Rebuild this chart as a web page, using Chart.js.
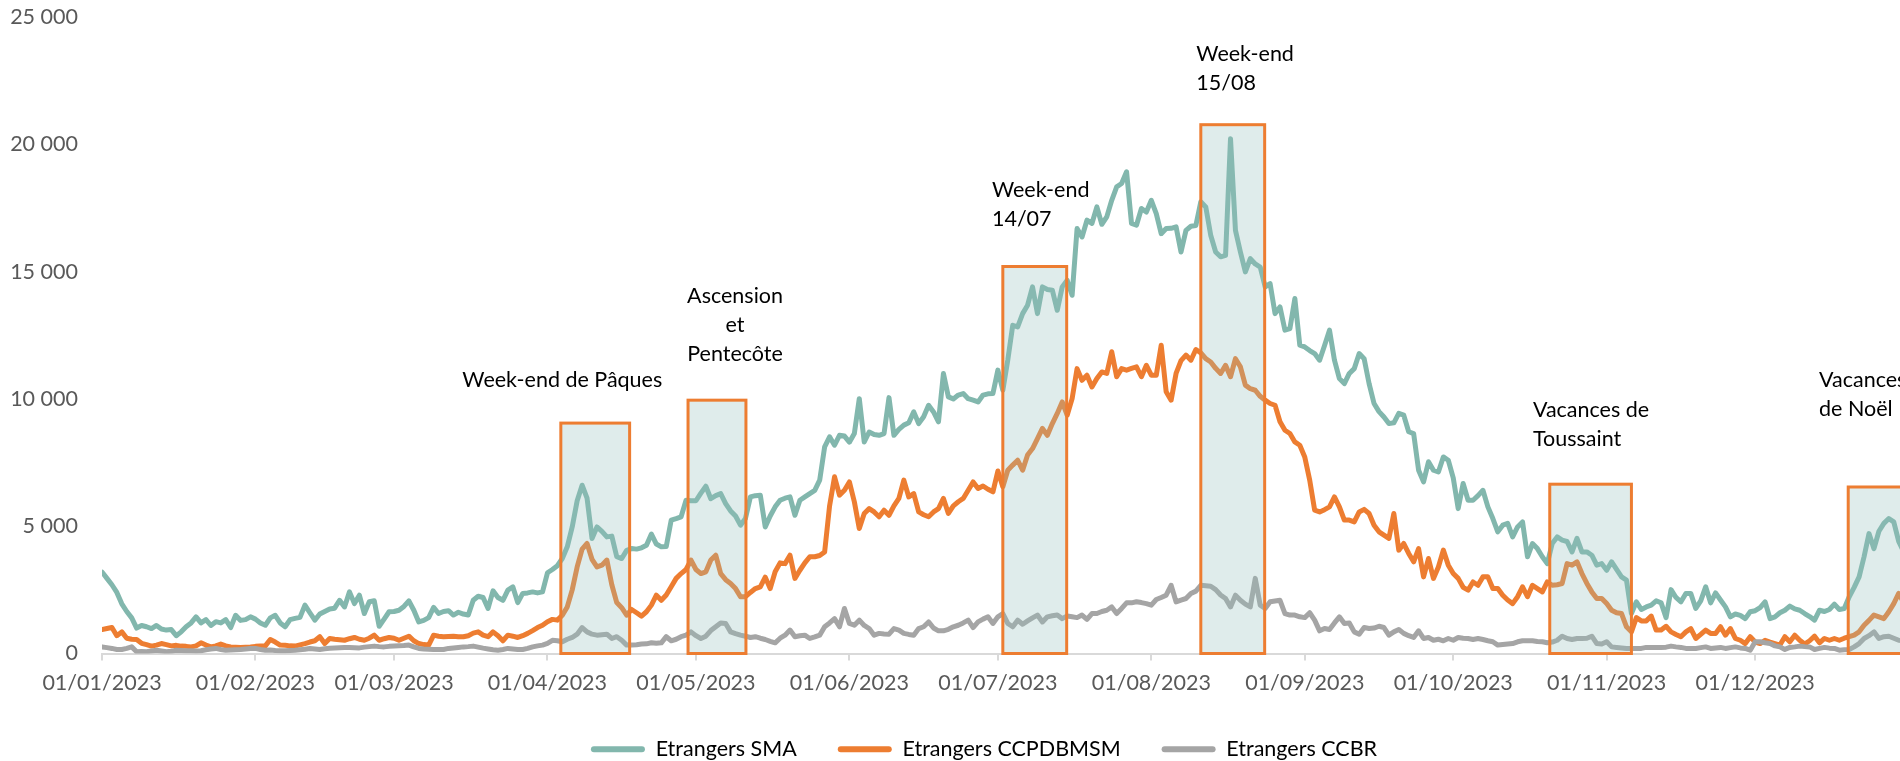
<!DOCTYPE html>
<html lang="fr">
<head>
<meta charset="utf-8">
<title>Etrangers 2023</title>
<script src="https://cdn.jsdelivr.net/npm/chart.js@4.4.1/dist/chart.umd.min.js"></script>
<style>
  html, body { margin: 0; padding: 0; background: #fff; overflow: hidden; }
  #wrap { width: 1900px; height: 761px; overflow: hidden; position: relative; }
</style>
</head>
<body>
<div id="wrap"><canvas id="chart" width="1968" height="770"></canvas></div>
<script>
// x values are day numbers in 2023 (0 = 01/01/2023)
const monthStarts = [0, 31, 59, 90, 120, 151, 181, 212, 243, 273, 304, 334];
const monthLabels = ["01/01/2023", "01/02/2023", "01/03/2023", "01/04/2023", "01/05/2023", "01/06/2023",
                     "01/07/2023", "01/08/2023", "01/09/2023", "01/10/2023", "01/11/2023", "01/12/2023"];
const seriesNames = ["Etrangers SMA", "Etrangers CCPDBMSM", "Etrangers CCBR"];

// daily values, one line per month
const smaValues = [
  3200,2950,2700,2400,1950,1650,1400,1000,1100,1050,980,1100,960,920,940,700,850,1050,1200,1440,1200,1330,1100,1250,1200,1330,1020,1500,1300,1330,1440,
  1350,1200,1110,1400,1500,1200,1050,1330,1380,1420,1900,1600,1310,1550,1650,1750,1780,2090,1830,2420,1960,2290,1570,2030,2070,1070,1350,1640,
  1650,1700,1850,2070,1700,1240,1300,1410,1810,1570,1650,1680,1510,1620,1550,1510,2090,2250,2200,1770,2460,2200,2090,2490,2620,2000,2360,2380,2420,2380,2420,
  3170,3300,3450,3730,4190,4970,6000,6610,6100,4520,4970,4800,4580,4610,3800,3730,4050,4120,4100,4150,4250,4690,4300,4190,4200,5240,5300,5370,6020,6000,
  6000,6300,6570,6080,6200,6280,5890,5600,5400,5040,5300,6150,6200,6220,4970,5400,5760,6020,6100,6150,5430,6020,6150,6280,6410,6810,8120,8510,8180,8570,8540,
  8300,8640,10010,8310,8700,8600,8570,8640,10050,8570,8800,8970,9060,9490,9030,9300,9750,9490,9100,11000,10080,10000,10150,10210,10010,9950,9880,10150,10200,10210,
  11130,10340,11520,12890,12830,13350,13680,14400,13350,14400,14300,14270,13480,14400,14660,14070,16690,16360,17020,16890,17540,16860,17150,17800,18330,18460,18920,16890,16820,17480,17340,
  17800,17280,16490,16690,16700,16760,15770,16620,16780,16810,17740,17540,16430,15770,15580,15640,20220,16620,15770,14990,15510,15300,15180,14400,14530,13350,13610,12700,12760,13940,12110,
  12040,11900,11780,11520,12100,12700,11520,10800,10600,11000,11190,11780,11580,10600,9820,9500,9290,9030,9060,9430,9360,8710,8640,7200,6740,7530,7200,7130,7720,7590,
  6900,5690,6680,6020,6020,6200,6410,5760,5300,4780,5040,5110,4580,4970,5170,3800,4320,4120,3800,3530,4320,4580,4450,4400,3990,4520,3990,3990,3860,3470,3530,
  3270,3600,3300,3010,2880,1570,2030,1730,1830,1900,2070,1990,1410,2510,2200,2030,2360,2360,1770,2070,2620,1990,2380,2100,1830,1440,1550,1500,1370,1640,
  1680,1800,2030,1370,1440,1600,1700,1860,1750,1700,1570,1450,1310,1700,1650,1730,1940,1730,1770,2230,2600,3010,3800,4710,4120,4800,5110,5300,5170,4400,4000
];
const ccpValues = [
  940,980,1020,700,850,600,560,550,400,350,290,330,390,350,300,320,290,280,260,300,420,330,260,300,370,300,260,250,240,250,260,
  280,290,300,550,450,330,320,300,290,340,390,450,500,660,390,590,560,540,520,580,630,560,520,600,720,520,580,630,
  600,520,600,680,500,390,350,330,720,680,660,670,680,660,660,700,800,850,720,660,850,700,500,720,680,630,700,790,900,1020,1110,
  1250,1340,1310,1500,1830,2500,3400,4100,4320,3700,3400,3470,3670,2700,2000,1800,1510,1730,1600,1470,1640,1900,2290,2090,2300,2620,2950,3140,3300,3670,
  3300,3140,3210,3670,3860,3140,2900,2750,2550,2230,2230,2400,2550,2620,3000,2550,3210,3560,3530,3860,2950,3270,3560,3800,3800,3850,3990,5800,6940,6220,6410,
  6740,5960,4910,5500,5690,5560,5370,5630,5430,5800,6090,6810,6150,6280,5560,5450,5370,5560,5690,6090,5500,5800,5960,6090,6410,6740,6480,6580,6450,6350,
  7170,6550,7200,7400,7590,7200,7800,8050,8440,8840,8570,9030,9430,9880,9360,10010,11190,10730,10930,10470,10800,11060,11000,11850,10870,11190,11130,11200,11260,10870,11320,
  10930,10930,12110,10280,9950,11000,11500,11720,11520,11940,11810,11580,11450,11200,11000,11320,10870,11580,11260,10540,10400,10340,10100,9950,9820,9750,9100,8770,8640,8310,8180,
  7720,6810,5630,5560,5650,5760,6150,5760,5240,5240,5170,5560,5660,5500,5040,4780,4650,4520,5500,4060,4320,3930,3600,4120,3010,3730,2950,3400,4060,3470,
  3140,2950,2600,2490,2810,2680,3010,3010,2550,2550,2290,2100,1960,2230,2620,2230,2680,2550,2420,2810,2680,2700,2750,3530,3470,3600,3140,2750,2420,2160,2160,
  1960,1700,1600,1570,1050,850,1410,1280,1280,1470,920,920,1070,850,750,660,850,980,590,750,920,790,790,1050,720,980,590,520,390,660,
  450,390,520,450,390,330,660,460,720,520,370,500,680,420,590,520,590,520,600,660,720,850,1110,1300,1510,1440,1370,1640,1960,2360,2000
];
const ccbrValues = [
  260,230,200,160,160,200,260,70,80,70,100,130,100,70,90,130,120,110,110,100,110,150,180,200,160,130,140,150,160,180,200,
  200,160,130,140,120,110,110,120,130,150,170,200,180,160,190,210,220,230,240,240,230,220,250,270,290,270,260,280,
  290,300,310,330,260,200,180,170,160,160,160,200,220,240,260,270,290,250,210,180,150,130,160,200,180,160,160,200,260,300,330,
  400,520,500,460,560,630,760,1020,850,760,720,740,760,590,660,520,330,330,340,370,380,420,400,420,660,500,560,660,720,850,
  700,590,680,900,1050,1200,1180,850,780,720,680,630,660,600,550,480,420,600,720,920,660,700,720,590,650,720,1050,1200,1370,1050,1770,
  1180,1110,1310,1100,980,720,790,770,760,980,920,790,750,720,980,1050,1240,1000,890,890,950,1050,1110,1200,1310,1020,1240,1350,1440,1180,
  1440,1570,1180,1050,1310,1150,1280,1400,1510,1240,1440,1480,1510,1370,1470,1440,1410,1510,1340,1570,1570,1650,1700,1830,1570,1770,1990,1990,2030,2000,1960,
  1900,2120,2200,2290,2680,2030,2100,2160,2360,2450,2680,2660,2640,2510,2300,2160,1830,2290,2090,1940,1830,2950,1900,1770,2030,2060,2090,1570,1510,1510,1440,
  1410,1600,1310,890,980,940,1200,1440,1180,1200,850,760,1020,980,1000,1070,1020,720,850,940,790,700,630,890,590,630,520,560,500,590,
  520,630,600,590,550,590,550,500,460,330,350,370,390,460,500,500,500,470,460,420,450,520,680,590,550,590,590,600,680,390,370,
  460,260,240,220,200,200,200,200,240,240,240,240,250,290,260,240,200,200,200,230,260,200,220,240,200,230,260,220,200,130,
  460,460,420,390,300,260,160,240,260,290,270,260,160,200,240,210,200,130,150,160,260,390,590,700,850,590,660,680,600,520,500
];

// highlighted periods (day numbers and height in series units)
const periodStart = [92.7, 118.4, 182.0, 222.0, 292.5, 352.8];
const periodEnd = [106.6, 130.1, 194.9, 234.9, 309.0, 372.0];
const periodTop = [9050, 9950, 15200, 20770, 6650, 6540];

const FONT = "Lato, 'Open Sans', sans-serif";
const TEXT_SIZE = 21.5;
const seriesColors = ["#82B7AD", "#ED7D31", "#A5A5A5"];

Chart.defaults.font.family = FONT;

function toPoints(values) {
    return values.map((v, i) => ({ x: i, y: v }));
}

function formatThousands(v) {
    return String(v).replace(/\B(?=(\d{3})+(?!\d))/g, " ");
}

// notes above the highlighted periods, anchored in data units
const periodNotes = [
    { lines: ["Week-end de Pâques"], day: 93.0, value: 10730, align: "center" },
    { lines: ["Ascension", "et", "Pentecôte"], day: 127.9, value: 14040, align: "center" },
    { lines: ["Week-end", "14/07"], day: 179.8, value: 18190, align: "left" },
    { lines: ["Week-end", "15/08"], day: 221.1, value: 23540, align: "left" },
    { lines: ["Vacances de", "Toussaint"], day: 289.1, value: 9550, align: "left" },
    { lines: ["Vacances", "de Noël"], day: 346.9, value: 10730, align: "left" }
];

const periodBoxes = {
    id: "periodBoxes",
    afterDatasetsDraw(chart) {
        const { ctx, scales: { x, y } } = chart;
        ctx.save();
        for (let i = 0; i < periodStart.length; i++) {
            const left = x.getPixelForValue(periodStart[i]);
            const right = x.getPixelForValue(periodEnd[i]);
            const top = y.getPixelForValue(periodTop[i]);
            const bottom = y.getPixelForValue(0);
            ctx.fillStyle = "rgba(148, 192, 188, 0.3)";
            ctx.fillRect(left, top, right - left, bottom - top);
            ctx.strokeStyle = "#ED7D31";
            ctx.lineWidth = 3;
            ctx.strokeRect(left, top, right - left, bottom - top);
        }
        ctx.restore();
    }
};

const periodLabels = {
    id: "periodLabels",
    afterDraw(chart) {
        const { ctx, scales: { x, y } } = chart;
        ctx.save();
        ctx.fillStyle = "#000000";
        ctx.font = TEXT_SIZE + "px " + FONT;
        ctx.textBaseline = "middle";
        periodNotes.forEach(note => {
            const px = x.getPixelForValue(note.day);
            const py = y.getPixelForValue(note.value);
            ctx.textAlign = note.align;
            note.lines.forEach((line, i) => ctx.fillText(line, px, py + i * 29));
        });
        ctx.restore();
    }
};

const ctx = document.getElementById("chart").getContext("2d");

const chart = new Chart(ctx, {
    type: "line",
    data: {
        datasets: [
            { label: seriesNames[0], data: toPoints(smaValues), borderColor: seriesColors[0], order: 3 },
            { label: seriesNames[1], data: toPoints(ccpValues), borderColor: seriesColors[1], order: 2 },
            { label: seriesNames[2], data: toPoints(ccbrValues), borderColor: seriesColors[2], order: 1 }
        ]
    },
    options: {
        responsive: false,
        animation: false,
        devicePixelRatio: 1,
        layout: { padding: { top: 17, left: 0, right: 0, bottom: 0 } },
        elements: {
            point: { radius: 0 },
            line: { borderWidth: 5, tension: 0, borderJoinStyle: "round", borderCapStyle: "round", fill: false }
        },
        scales: {
            x: {
                type: "linear",
                min: 0,
                max: 377,
                afterBuildTicks: axis => { axis.ticks = monthStarts.map(v => ({ value: v })); },
                afterFit: axis => { axis.height = 44; },
                grid: { drawOnChartArea: false, drawTicks: true, tickLength: 7, color: "#D9D9D9", lineWidth: 2 },
                border: { display: true, color: "#D9D9D9", width: 2 },
                ticks: {
                    autoSkip: false,
                    maxRotation: 0,
                    padding: 10,
                    color: "#595959",
                    font: { size: TEXT_SIZE },
                    callback: value => monthLabels[monthStarts.indexOf(value)]
                }
            },
            y: {
                min: 0,
                max: 25000,
                afterFit: axis => { axis.width = 102; },
                // hidden tick marks keep the labels 24px away from the plot
                grid: { display: false, drawTicks: true, tickLength: 22 },
                border: { display: false },
                ticks: {
                    stepSize: 5000,
                    padding: 2,
                    color: "#595959",
                    font: { size: TEXT_SIZE },
                    callback: value => formatThousands(value)
                }
            }
        },
        plugins: {
            tooltip: { enabled: false },
            legend: {
                position: "bottom",
                labels: {
                    boxWidth: 54,
                    boxHeight: 6,
                    padding: 41,
                    color: "#595959",
                    font: { size: TEXT_SIZE },
                    useBorderRadius: true,
                    borderRadius: 3,
                    generateLabels: () => seriesNames.map((name, i) => ({
                        text: name,
                        fillStyle: seriesColors[i],
                        strokeStyle: seriesColors[i],
                        lineWidth: 0,
                        borderRadius: 3,
                        datasetIndex: i
                    }))
                }
            }
        }
    },
    plugins: [periodBoxes, periodLabels]
});
</script>
</body>
</html>
